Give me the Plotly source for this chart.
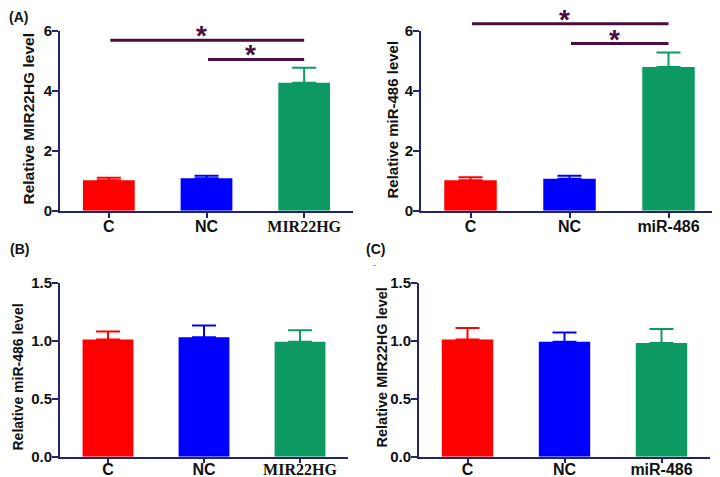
import plotly.graph_objects as go

groups_a = ["C", "NC", "MIR22HG"]
groups_b = ["C", "NC", "miR-486"]

mir22hg_after_mir22hg = [1.02, 1.08, 4.27]
mir22hg_after_mir22hg_err = [0.08, 0.09, 0.50]

mir486_after_mir486 = [1.02, 1.07, 4.80]
mir486_after_mir486_err = [0.10, 0.10, 0.48]

mir486_after_mir22hg = [1.01, 1.03, 0.99]
mir486_after_mir22hg_err = [0.07, 0.10, 0.10]

mir22hg_after_mir486 = [1.01, 0.99, 0.98]
mir22hg_after_mir486_err = [0.10, 0.08, 0.12]

y_ticks_top = [0, 2, 4, 6]
y_ticks_bottom = [0.0, 0.5, 1.0, 1.5]

# significance comparisons: (from index, to index, y level)
sig_a = [(0, 2, 5.69), (1, 2, 5.05)]
sig_b = [(0, 2, 6.24), (1, 2, 5.58)]

colors = ["#FF0000", "#0000FF", "#0D9A62"]
AXC = "#23236E"
SIGC = "#4A0F3E"

W, H = 720, 477
OFF = 8  # page body margin offset


def px(x):
    return (x - OFF) / W


def py(y):
    return 1 - (y - OFF) / H


fig = go.Figure()

panels = [
    ("x", "y", groups_a, mir22hg_after_mir22hg, mir22hg_after_mir22hg_err),
    ("x2", "y2", groups_b, mir486_after_mir486, mir486_after_mir486_err),
    ("x3", "y3", groups_a, mir486_after_mir22hg, mir486_after_mir22hg_err),
    ("x4", "y4", groups_b, mir22hg_after_mir486, mir22hg_after_mir486_err),
]

for xa, ya, cats, vals, errs in panels:
    for i, (c, v, e) in enumerate(zip(cats, vals, errs)):
        fig.add_trace(go.Bar(
            x=[i], y=[v], xaxis=xa, yaxis=ya,
            marker=dict(color=colors[i], line=dict(width=0)),
            error_y=dict(type="data", array=[e], arrayminus=[0], symmetric=False,
                         color=colors[i], thickness=2, width=12),
            showlegend=False, hoverinfo="skip",
        ))


def ticktext(cats):
    out = []
    for c in cats:
        if c == "MIR22HG":
            out.append('<b><span style="font-family:Liberation Serif">%s</span></b>' % c)
        else:
            out.append("<b>%s</b>" % c)
    return out


xtickfont = dict(family="Liberation Sans, Arial", size=16, color="#111111")
ytickfont = dict(family="Liberation Sans, Arial", size=15, color="#111111")


def xaxis(dom, cats, anchor, standoff, ticklen):
    return dict(domain=dom, anchor=anchor, range=[-0.5, 2.5], automargin=False,
                tickmode="array", tickvals=list(range(len(cats))), ticktext=ticktext(cats),
                showline=True, linecolor=AXC, linewidth=2, ticks="outside", ticklen=ticklen,
                tickcolor=AXC, tickwidth=2, tickfont=xtickfont, showgrid=False, zeroline=False,
                ticklabelstandoff=standoff, fixedrange=True)


def yaxis(dom, rng, ticks, fmt, anchor):
    return dict(domain=dom, anchor=anchor, range=rng, automargin=False,
                tickmode="array", tickvals=ticks,
                ticktext=["<b>%s</b>" % (fmt % t) for t in ticks],
                showline=True, linecolor=AXC, linewidth=2, ticks="outside", ticklen=6,
                tickcolor=AXC, tickwidth=2, tickfont=ytickfont, showgrid=False, zeroline=False,
                ticklabelstandoff=-3, fixedrange=True)


top_dom = [py(210.7), py(31)]
bot_dom = [py(456.7), py(282.7)]

fig.update_layout(
    width=W, height=H, margin=dict(l=0, r=0, t=0, b=0, pad=0, autoexpand=False),
    paper_bgcolor="white", plot_bgcolor="white",
    barmode="overlay", bargap=0.47,
    font=dict(family="Liberation Sans, Arial", color="#111111"),
    xaxis=xaxis([px(60), px(353)], groups_a, "y", -5, 5),
    yaxis=yaxis(top_dom, [0, 6], y_ticks_top, "%d", "x"),
    xaxis2=xaxis([px(421), px(718)], groups_b, "y2", -5, 5),
    yaxis2=yaxis(top_dom, [0, 6], y_ticks_top, "%d", "x2"),
    xaxis3=xaxis([px(60), px(348)], groups_a, "y3", -7, 4),
    yaxis3=yaxis(bot_dom, [0, 1.5], y_ticks_bottom, "%.1f", "x3"),
    xaxis4=xaxis([px(419), px(710)], groups_b, "y4", -7, 4),
    yaxis4=yaxis(bot_dom, [0, 1.5], y_ticks_bottom, "%.1f", "x4"),
)

anns = []
for xa, ya, sig, ymax in (("x", "y", sig_a, y_ticks_top[-1]), ("x2", "y2", sig_b, y_ticks_top[-1])):
    for (i0, i1, yv) in sig:
        anns.append(dict(x=i1, y=yv / ymax, ax=i0, ay=0, xref=xa, yref=ya + " domain",
                         axref=xa, ayref="pixel",
                         text="", showarrow=True, arrowhead=0, arrowwidth=3,
                         arrowcolor=SIGC, standoff=0, startstandoff=0))
        anns.append(dict(x=(i0 + i1) / 2 - 0.05, y=yv / ymax, xref=xa, yref=ya + " domain", text="<b>*</b>",
                         showarrow=False, yanchor="bottom", yshift=-12, borderpad=0,
                         font=dict(family="Liberation Sans, Arial", size=28, color=SIGC)))

# y-axis titles
for txt, tx, ty, size in (("Relative MIR22HG level", 28.5, 119, 15.5),
                          ("Relative miR-486 level", 392.5, 120, 15),
                          ("Relative miR-486 level", 17.5, 377, 14),
                          ("Relative MIR22HG level", 381, 367.5, 14.5)):
    anns.append(dict(x=px(tx), y=py(ty), xref="paper", yref="paper", text="<b>%s</b>" % txt,
                     textangle=-90, showarrow=False, xanchor="center", yanchor="middle",
                     font=dict(family="Liberation Sans, Arial", size=size, color="#111111")))

anns.append(dict(x=px(8), y=py(8), xref="paper", yref="paper", text="<b>(A)</b>",
                 showarrow=False, xanchor="left", yanchor="top", borderpad=0,
                 font=dict(family="Liberation Sans, Arial", size=14, color="#111111")))
for txt, lx, ly in (("(B)", 8, 249), ("(C)", 364, 249)):
    anns.append(dict(x=px(lx), y=py(ly), xref="paper", yref="paper", text="<b>%s</b>" % txt,
                     showarrow=False, xanchor="left", yanchor="middle",
                     font=dict(family="Liberation Sans, Arial", size=14, color="#111111")))
anns.append(dict(x=px(374), y=py(265), xref="paper", yref="paper", text="<b>-</b>",
                 showarrow=False, font=dict(size=9, color="#8a8a8a")))

fig.update_layout(annotations=anns)

fig.write_html("out.html")
